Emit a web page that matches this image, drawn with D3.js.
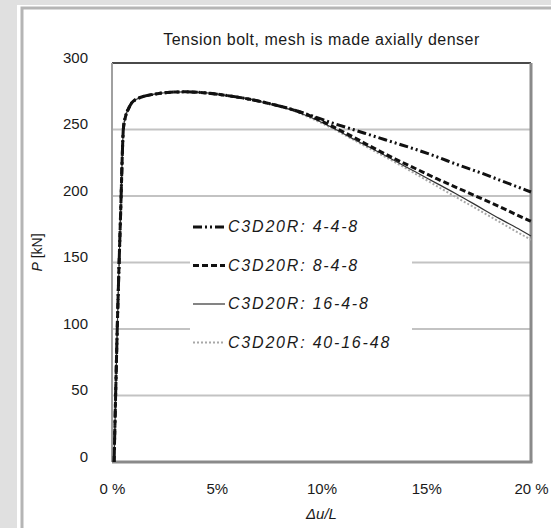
<!DOCTYPE html>
<html>
<head>
<meta charset="utf-8">
<script src="https://cdn.jsdelivr.net/npm/d3@7"></script>
<style>
  body { margin: 0; background: #e0e0e0; }
  svg { display: block; }
  text { font-family: "Liberation Sans", Arial, sans-serif; fill: #1a1a1a; }
</style>
</head>
<body>
<script>
// data (strain = delta u / L, load in kN)
const strain = [0.001, 0.0025, 0.0043, 0.005, 0.0054, 0.0065, 0.008, 0.0094, 0.012, 0.0148,
                0.02, 0.028, 0.035, 0.045, 0.055, 0.065, 0.075, 0.085, 0.095, 0.105,
                0.115, 0.125, 0.135, 0.145, 0.155, 0.165, 0.175, 0.185, 0.195, 0.20];
const load448 = [0, 100, 197, 235, 250, 260, 266, 270, 273, 274.8,
                 276.5, 278, 278.3, 277.5, 275.5, 273, 269.5, 265.5, 260.5, 255,
                 250, 245, 240, 235, 229.5, 223.5, 218, 212, 206, 203];
const load848 = [0, 100, 197, 235, 250, 260, 266, 270, 273, 274.8,
                 276.5, 278, 278.3, 277.5, 275.5, 273, 269.5, 265.5, 260, 252.5,
                 244.5, 236, 228, 220.5, 213, 206, 199, 192, 184.5, 181];
const load1648 = [0, 100, 197, 235, 250, 260, 266, 270, 273, 274.8,
                  276.5, 278, 278.3, 277.5, 275.5, 273, 269.5, 265, 259, 251.5,
                  243, 235, 226.5, 218, 209.5, 201, 192, 183, 174.5, 170];
const load401648 = [0, 100, 197, 235, 250, 260, 266, 270, 273, 274.8,
                    276.5, 278, 278.3, 277.5, 275.5, 273, 269.5, 265, 258.5, 251,
                    242.5, 234, 225.5, 216.5, 207.5, 198.5, 189.5, 180.5, 171.5, 167];
const seriesNames = ["C3D20R: 4-4-8", "C3D20R: 8-4-8", "C3D20R: 16-4-8", "C3D20R: 40-16-48"];
const yTicks = [0, 50, 100, 150, 200, 250, 300];
const xTicks = [0, 0.05, 0.10, 0.15, 0.20];
const xTickLabels = ["0 %", "5%", "10%", "15%", "20 %"];

const w = 551, h = 528;
const pLeft = 112, pRight = 531, pTop = 63, pBottom = 462;

const styles = [
  { color: "#111", width: 3, dash: "9,3,2,3,2,3" },
  { color: "#111", width: 3, dash: "6,3" },
  { color: "#333", width: 1.2, dash: null },
  { color: "#a8a8a8", width: 2, dash: "2,2" }
];
const loads = [load448, load848, load1648, load401648];

const x = d3.scaleLinear().domain([0, 0.20]).range([pLeft, pRight]);
const y = d3.scaleLinear().domain([0, 300]).range([pBottom, pTop]);

const svg = d3.select("body").append("svg")
  .attr("width", w)
  .attr("height", h);

// panel
svg.append("rect").attr("x", 17).attr("y", 5).attr("width", 600).attr("height", 600).attr("fill", "#fff");
svg.append("rect").attr("x", 22).attr("y", 8).attr("width", 600).attr("height", 600)
  .attr("fill", "#fff").attr("stroke", "#b5b5b5").attr("stroke-width", 3);

// gridlines
svg.append("g")
  .selectAll("line")
  .data(yTicks.slice(1))
  .enter()
  .append("line")
  .attr("x1", pLeft).attr("x2", pRight)
  .attr("y1", (d) => y(d)).attr("y2", (d) => y(d))
  .attr("stroke", "#c3c3c3")
  .attr("stroke-width", 2);

// plot frame
svg.append("line").attr("x1", pLeft).attr("x2", pRight).attr("y1", pTop).attr("y2", pTop)
  .attr("stroke", "#222").attr("stroke-width", 1.5);
svg.append("line").attr("x1", pLeft).attr("x2", pLeft).attr("y1", pTop).attr("y2", pBottom)
  .attr("stroke", "#a0a0a0").attr("stroke-width", 2);
svg.append("line").attr("x1", pLeft).attr("x2", pRight + 1.5).attr("y1", pBottom).attr("y2", pBottom)
  .attr("stroke", "#8a8a8a").attr("stroke-width", 3);
svg.append("line").attr("x1", pRight).attr("x2", pRight).attr("y1", pTop).attr("y2", pBottom)
  .attr("stroke", "#8a8a8a").attr("stroke-width", 3);

// axes
const yAxis = d3.axisLeft(y).tickValues(yTicks).tickSize(0).tickPadding(0);
const gy = svg.append("g").attr("transform", `translate(${pLeft - 24}, 0)`).call(yAxis);
gy.select(".domain").remove();
gy.selectAll("text").attr("font-size", 15).attr("dy", "-0.05em").attr("fill", "#1a1a1a")
  .style("font-family", "'Liberation Sans', Arial, sans-serif");

const xAxis = d3.axisBottom(x).tickValues(xTicks).tickSize(0).tickPadding(0)
  .tickFormat((d, i) => xTickLabels[i]);
const gx = svg.append("g").attr("transform", `translate(0, ${pBottom + 21})`).call(xAxis);
gx.select(".domain").remove();
gx.selectAll("text").attr("font-size", 15).attr("fill", "#1a1a1a")
  .style("font-family", "'Liberation Sans', Arial, sans-serif");

// titles
svg.append("text")
  .attr("x", (pLeft + pRight) / 2)
  .attr("y", 45)
  .attr("text-anchor", "middle")
  .attr("font-size", 16)
  .attr("letter-spacing", 0.5)
  .text("Tension bolt, mesh is made axially denser");

svg.append("text")
  .attr("x", (pLeft + pRight) / 2)
  .attr("y", 519)
  .attr("text-anchor", "middle")
  .attr("font-size", 15)
  .attr("font-style", "italic")
  .text("Δu/L");

const yTitle = svg.append("text")
  .attr("transform", `translate(42, ${y(150) - 10}) rotate(-90)`)
  .attr("text-anchor", "middle")
  .attr("font-size", 14);
yTitle.append("tspan").attr("font-style", "italic").text("P");
yTitle.append("tspan").text("  [kN]");

// curves
const line = d3.line()
  .x((d) => x(d[0]))
  .y((d) => y(d[1]))
  .curve(d3.curveMonotoneX);

const order = [3, 2, 1, 0];
order.forEach((k) => {
  svg.append("path")
    .datum(strain.map((s, i) => [s, loads[k][i]]))
    .attr("d", line)
    .attr("fill", "none")
    .attr("stroke", styles[k].color)
    .attr("stroke-width", styles[k].width)
    .attr("stroke-dasharray", styles[k].dash);
});

// legend
const legend = svg.append("g");
legend.append("rect")
  .attr("x", 190).attr("y", 205).attr("width", 222).attr("height", 157)
  .attr("fill", "#fff");
seriesNames.forEach((name, i) => {
  const cy = 227 + i * 38.5;
  legend.append("line")
    .attr("x1", 193).attr("x2", 225)
    .attr("y1", cy).attr("y2", cy)
    .attr("stroke", styles[i].color)
    .attr("stroke-width", styles[i].width)
    .attr("stroke-dasharray", styles[i].dash);
  legend.append("text")
    .attr("x", 228).attr("y", cy + 5)
    .attr("font-size", 16)
    .attr("font-style", "italic")
    .attr("letter-spacing", 1.8)
    .attr("fill", i === 3 ? "#999" : "#1a1a1a")
    .text(name);
});
</script>
</body>
</html>
